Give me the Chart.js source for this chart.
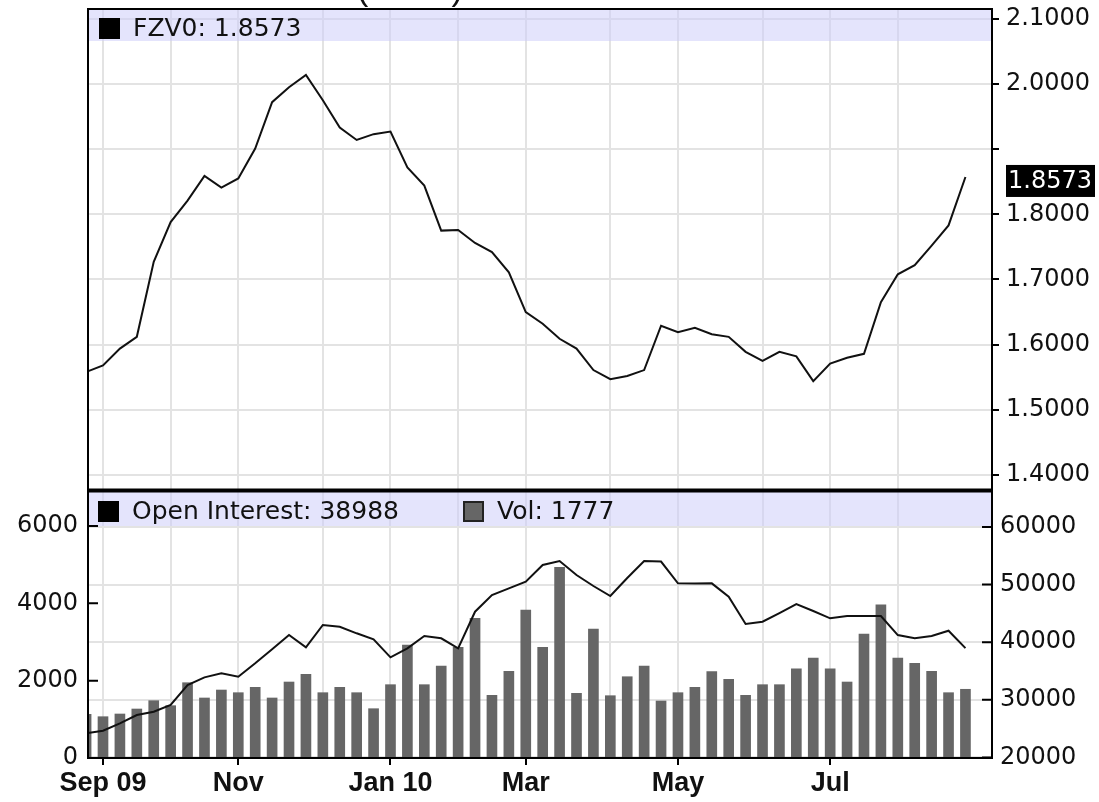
<!DOCTYPE html>
<html>
<head>
<meta charset="utf-8">
<script src="https://cdn.jsdelivr.net/npm/chart.js@4.4.1/dist/chart.umd.min.js"></script>
<style>
  html, body { margin: 0; padding: 0; background: #fff; }
  #wrap { position: relative; width: 1099px; height: 802px; overflow: hidden; background: #fff; }
  #priceChart { position: absolute; left: 0; top: 0; }
  #oiChart { position: absolute; left: 0; top: 489px; }
</style>
</head>
<body>
<div id="wrap">
  <canvas id="priceChart" width="1099" height="491" style="width:1099px;height:491px"></canvas>
  <canvas id="oiChart" width="1099" height="313" style="width:1099px;height:313px"></canvas>
</div>
<script>
/* =========================
   DATA (weekly, index 0 = last week of Aug 09)
========================= */

const price = [
  1.558, 1.568, 1.594, 1.612, 1.727, 1.788, 1.821, 1.859, 1.841, 1.855,
  1.901, 1.972, 1.995, 2.014, 1.975, 1.933, 1.914, 1.923, 1.927, 1.872,
  1.844, 1.775, 1.776, 1.756, 1.742, 1.711, 1.650, 1.632, 1.609, 1.594,
  1.561, 1.547, 1.552, 1.561, 1.629, 1.619, 1.626, 1.616, 1.612, 1.589,
  1.575, 1.589, 1.582, 1.544, 1.571, 1.580, 1.586, 1.665, 1.708, 1.722,
  1.752, 1.783, 1.8573
];

const openInterest = [
  24200, 24650, 25930, 27370, 27950, 29110, 32580, 33910, 34610, 34020,
  36340, 38770, 41250, 39120, 42990, 42690, 41550, 40510, 37380, 38950,
  41080, 40680, 38950, 45300, 48190, 49360, 50500, 53400, 54090, 51660,
  49760, 48020, 51140, 54090, 54000, 50220, 50200, 50220, 47900, 43160,
  43560, 45070, 46630, 45420, 44150, 44550, 44550, 44550, 41250, 40680,
  41080, 42000, 38988
];

const volume = [
  1130, 1068, 1138, 1267, 1482, 1353, 1947, 1552, 1758, 1689,
  1828, 1552, 1965, 2164, 1689, 1828, 1689, 1275, 1896, 2922,
  1896, 2379, 2862, 3613, 1621, 2242, 3827, 2862, 4931, 1673,
  3336, 1611, 2102, 2379, 1474, 1689, 1828, 2232, 2035, 1621,
  1896, 1896, 2309, 2586, 2309, 1965, 3207, 3964, 2586, 2449,
  2242, 1689, 1777
];

// first week of each month
const monthTicks = [1, 5, 9, 14, 18, 22, 26, 31, 35, 40, 44, 48];
const monthLabels = ["Sep 09", "", "Nov", "", "Jan 10", "", "Mar", "", "May", "", "Jul", ""];

const priceTicks = [1.4, 1.5, 1.6, 1.7, 1.8, 1.9, 2.0, 2.1];
const volTicks = [0, 2000, 4000, 6000];
const oiTicks = [20000, 30000, 40000, 50000, 60000];

/* =========================
   HELPERS
========================= */

Chart.defaults.font.family = "'DejaVu Sans', sans-serif";
Chart.defaults.font.size = 24;
Chart.defaults.color = "#111";

const GRID = "#e3e3e3";
const X_MIN = 0.113;
const X_MAX = 53.57;

const toPoints = arr => arr.map((v, i) => ({ x: i, y: v }));
const setTicks = list => axis => { axis.ticks = list.map(v => ({ value: v })); };
const labelFor = v => {
  const k = monthTicks.indexOf(v);
  return k >= 0 ? monthLabels[k] : "";
};

function bandPlugin(height, items) {
  return {
    id: "band",
    beforeDatasetsDraw(chart) {
      const { ctx, chartArea: a } = chart;
      ctx.save();
      ctx.fillStyle = "rgba(205,205,250,0.55)";
      ctx.fillRect(a.left, a.top, a.right - a.left, height);
      ctx.font = "25px 'DejaVu Sans'";
      ctx.textBaseline = "middle";
      ctx.textAlign = "left";
      items.forEach(it => {
        const cy = a.top + it.dy;
        ctx.fillStyle = it.fill;
        ctx.fillRect(it.x, cy - 10, 21, 21);
        if (it.edge) {
          ctx.strokeStyle = "#222";
          ctx.lineWidth = 2;
          ctx.strokeRect(it.x + 1, cy - 9, 19, 19);
        }
        ctx.fillStyle = "#111";
        ctx.fillText(it.text, it.x + 34, cy + 1);
      });
      ctx.restore();
    }
  };
}

function framePlugin(topWidth, bottomWidth) {
  return {
    id: "frame",
    afterDraw(chart) {
      const { ctx, chartArea: a } = chart;
      ctx.save();
      ctx.strokeStyle = "#000";
      ctx.lineWidth = 2;
      ctx.beginPath();
      ctx.moveTo(a.left, a.top);
      ctx.lineTo(a.left, a.bottom);
      ctx.moveTo(a.right, a.top);
      ctx.lineTo(a.right, a.bottom);
      ctx.stroke();
      ctx.lineWidth = topWidth;
      ctx.beginPath();
      ctx.moveTo(a.left - 1, a.top);
      ctx.lineTo(a.right + 1, a.top);
      ctx.stroke();
      ctx.lineWidth = bottomWidth;
      ctx.beginPath();
      ctx.moveTo(a.left - 1, a.bottom);
      ctx.lineTo(a.right + 1, a.bottom);
      ctx.stroke();
      ctx.restore();
    }
  };
}

/* =========================
   PRICE PANEL
========================= */

const lastPrice = price[price.length - 1];

const priceExtras = {
  id: "priceExtras",
  afterDraw(chart) {
    const { ctx } = chart;
    const ys = chart.scales.y;
    const y = ys.getPixelForValue(lastPrice) + 4;
    ctx.save();
    // last value box
    ctx.fillStyle = "#000";
    ctx.fillRect(1006, y - 16, 89, 32);
    ctx.fillStyle = "#fff";
    ctx.font = "24px 'DejaVu Sans'";
    ctx.textBaseline = "middle";
    ctx.textAlign = "left";
    ctx.fillText(lastPrice.toFixed(4), 1008, y + 1);
    // title, cut off by the top edge (only the parentheses hang below)
    ctx.fillStyle = "#111";
    ctx.font = "34px 'Liberation Sans'";
    ctx.textAlign = "center";
    ctx.textBaseline = "alphabetic";
    ctx.fillText("(FZV0)", 410, 0);
    ctx.restore();
  }
};

new Chart(document.getElementById("priceChart"), {
  type: "line",
  data: {
    datasets: [{
      data: toPoints(price),
      borderColor: "#111",
      borderWidth: 2,
      pointRadius: 0,
      tension: 0
    }]
  },
  options: {
    responsive: false,
    animation: false,
    devicePixelRatio: 1,
    layout: { padding: { left: 88, top: 9, right: 0, bottom: 1 } },
    plugins: { legend: { display: false }, tooltip: { enabled: false } },
    scales: {
      x: {
        type: "linear",
        min: X_MIN,
        max: X_MAX,
        offset: false,
        afterBuildTicks: setTicks(monthTicks),
        ticks: { display: false },
        grid: { color: GRID, lineWidth: 2, drawTicks: false },
        border: { display: false },
        afterFit: s => { s.height = 0; s.paddingLeft = 0; s.paddingRight = 0; }
      },
      y: {
        position: "right",
        min: 1.377,
        max: 2.115,
        afterBuildTicks: setTicks(priceTicks),
        ticks: {
          padding: 7,
          callback: v => (Math.abs(v - 1.9) < 1e-6 ? "" : v.toFixed(4))
        },
        grid: { color: GRID, lineWidth: 2, tickColor: "#000", tickLength: 7, tickWidth: 2 },
        border: { display: false },
        afterFit: s => { s.width = 107; s.paddingTop = 0; s.paddingBottom = 0; }
      }
    }
  },
  plugins: [
    bandPlugin(32, [{ x: 99, dy: 19, fill: "#000", text: "FZV0: " + lastPrice.toFixed(4) }]),
    framePlugin(2, 3),
    priceExtras
  ]
});

/* =========================
   VOLUME / OPEN INTEREST PANEL
========================= */

const innerTicks = {
  id: "innerTicks",
  afterDraw(chart) {
    const { ctx, chartArea: a, scales } = chart;
    ctx.save();
    ctx.strokeStyle = "#000";
    ctx.lineWidth = 2;
    ctx.beginPath();
    volTicks.forEach(v => {
      const y = scales.yVol.getPixelForValue(v);
      ctx.moveTo(a.left, y);
      ctx.lineTo(a.left + 10, y);
    });
    oiTicks.forEach(v => {
      const y = scales.yOI.getPixelForValue(v);
      ctx.moveTo(a.right - 10, y);
      ctx.lineTo(a.right, y);
    });
    ctx.stroke();
    ctx.restore();
  }
};

new Chart(document.getElementById("oiChart"), {
  type: "line",
  data: {
    datasets: [
      {
        type: "line",
        data: toPoints(openInterest),
        yAxisID: "yOI",
        borderColor: "#111",
        borderWidth: 2,
        pointRadius: 0,
        tension: 0,
        order: 0
      },
      {
        type: "bar",
        data: toPoints(volume),
        yAxisID: "yVol",
        backgroundColor: "#666666",
        barThickness: 10,
        order: 1
      }
    ]
  },
  options: {
    responsive: false,
    animation: false,
    devicePixelRatio: 1,
    layout: { padding: { left: 0, top: 2, right: 0, bottom: 0 } },
    plugins: { legend: { display: false }, tooltip: { enabled: false } },
    scales: {
      x: {
        type: "linear",
        min: X_MIN,
        max: X_MAX,
        offset: false,
        afterBuildTicks: setTicks(monthTicks),
        ticks: {
          autoSkip: false,
          maxRotation: 0,
          padding: 2,
          font: { family: "'Liberation Sans', Arial, sans-serif", size: 27, weight: "bold" },
          callback: v => labelFor(v)
        },
        grid: {
          offset: false,
          color: GRID,
          lineWidth: 2,
          tickLength: 7,
          tickWidth: 2,
          tickColor: c => (c.tick && labelFor(c.tick.value) ? "#000" : "rgba(0,0,0,0)")
        },
        border: { display: false },
        afterFit: s => { s.height = 44; }
      },
      yVol: {
        position: "left",
        min: 0,
        max: 6905,
        afterBuildTicks: setTicks(volTicks),
        ticks: { padding: 10, callback: v => String(v) },
        grid: { display: false, drawTicks: false },
        border: { display: false },
        afterFit: s => { s.width = 88; s.paddingTop = 0; s.paddingBottom = 0; }
      },
      yOI: {
        position: "right",
        min: 19913,
        max: 66247,
        afterBuildTicks: setTicks(oiTicks),
        ticks: { padding: 8, callback: v => String(v) },
        grid: { color: GRID, lineWidth: 2, drawTicks: false },
        border: { display: false },
        afterFit: s => { s.width = 107; s.paddingTop = 0; s.paddingBottom = 0; }
      }
    }
  },
  plugins: [
    bandPlugin(35, [
      { x: 98, dy: 20, fill: "#000", text: "Open Interest: " + openInterest[openInterest.length - 1] },
      { x: 463, dy: 20, fill: "#666666", edge: true, text: "Vol: " + volume[volume.length - 1] }
    ]),
    framePlugin(3, 2),
    innerTicks
  ]
});
</script>
</body>
</html>
